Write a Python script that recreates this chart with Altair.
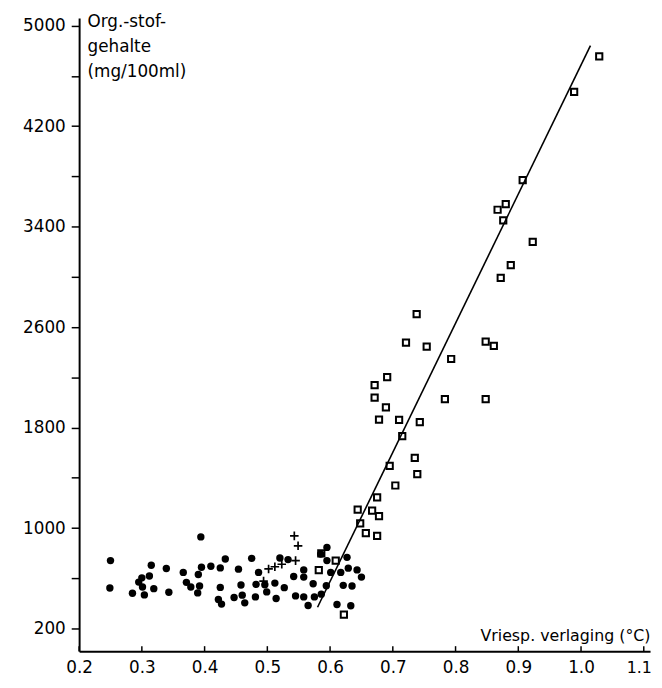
import altair as alt
import pandas as pd

# Filled circles
dot_x = [0.250, 0.249, 0.285, 0.304, 0.301, 0.295, 0.300, 0.312, 0.315, 0.319,
         0.339, 0.343, 0.366, 0.371, 0.378, 0.394, 0.395, 0.390, 0.392, 0.389,
         0.410, 0.425, 0.425, 0.422, 0.427, 0.433, 0.447, 0.458, 0.460, 0.464,
         0.454, 0.475, 0.486, 0.482, 0.481, 0.499, 0.496, 0.512, 0.514, 0.527,
         0.520, 0.533, 0.542, 0.558, 0.558, 0.545, 0.558, 0.573, 0.565, 0.575,
         0.586, 0.594, 0.601, 0.595, 0.595, 0.585, 0.617, 0.621, 0.635, 0.629,
         0.643, 0.650, 0.627, 0.611, 0.633]
dot_y = [741, 523, 481, 468, 531, 570, 604, 618, 704, 518,
         678, 489, 647, 568, 531, 930, 688, 631, 539, 484,
         696, 683, 528, 431, 395, 754, 447, 547, 466, 405,
         673, 759, 647, 552, 452, 492, 549, 562, 439, 526,
         762, 749, 615, 667, 610, 460, 452, 557, 384, 452,
         474, 541, 647, 741, 846, 793, 647, 544, 539, 681,
         667, 610, 767, 392, 382]

# Plus signs
plus_x = [0.543, 0.549, 0.545, 0.502, 0.512, 0.523, 0.494]
plus_y = [938, 859, 741, 675, 692, 712, 578]

# Open squares
sq_x = [1.029, 0.989, 0.907, 0.880, 0.867, 0.876, 0.923, 0.888, 0.872, 0.848,
        0.861, 0.793, 0.783, 0.848, 0.754, 0.721, 0.738, 0.691, 0.671, 0.671,
        0.689, 0.678, 0.710, 0.743, 0.715, 0.735, 0.739, 0.695, 0.704, 0.675,
        0.644, 0.667, 0.678, 0.648, 0.657, 0.675, 0.609, 0.586, 0.582, 0.622]
sq_y = [4754, 4473, 3770, 3578, 3534, 3450, 3279, 3094, 2991, 2485,
        2451, 2346, 2026, 2026, 2445, 2477, 2703, 2201, 2138, 2039,
        1961, 1863, 1861, 1843, 1732, 1559, 1430, 1496, 1339, 1245,
        1147, 1139, 1095, 1037, 960, 938, 741, 799, 665, 311]

# Fitted line
line_x = [0.58, 1.015]
line_y = [370, 4840]

x_ticks = [0.2, 0.3, 0.4, 0.5, 0.6, 0.7, 0.8, 0.9, 1.0, 1.1]
y_ticks = [200, 600, 1000, 1400, 1800, 2200, 2600, 3000, 3400, 3800, 4200, 4600, 5000]
y_labels = [200, 1000, 1800, 2600, 3400, 4200, 5000]

x_title = "Vriesp. verlaging (°C)"
y_title = ["Org.-stof-", "gehalte", "(mg/100ml)"]

FONT = "DejaVu Sans"
xdom = [0.2, 1.11]
ydom = [20, 5060]

xs = alt.Scale(domain=xdom, nice=False, zero=False)
ys = alt.Scale(domain=ydom, nice=False, zero=False)

label_test = " || ".join(f"datum.value == {v}" for v in y_labels)

xaxis = alt.Axis(values=x_ticks, format=".1f", tickSize=0, labelPadding=9,
                 labelFont=FONT, labelColor="black",
                 labelFontSize={"condition": {"test": "datum.value > 1.05", "value": 16}, "value": 17},
                 labelOffset={"condition": {"test": "datum.value > 1.05", "value": -5}, "value": 0},
                 domainColor="black", domainWidth=2, grid=False,
                 title=x_title, titleFont=FONT, titleFontSize=16,
                 titleFontWeight="normal", titleColor="black",
                 titleAnchor="end", titleAlign="right", titleX=578, titleY=-11,
                 titleBaseline="alphabetic", labelFlush=False)
yaxis = alt.Axis(values=y_ticks, labelExpr=f"({label_test}) ? datum.value : ''",
                 tickSize=8, tickWidth=1.5, tickColor="black", labelPadding=6,
                 labelFont=FONT, labelFontSize=17, labelColor="black",
                 domainColor="black", domainWidth=2, grid=False,
                 title=y_title, titleFont=FONT, titleFontSize=17,
                 titleFontWeight="normal", titleColor="black", titleAngle=0,
                 titleAlign="left", titleBaseline="top", titleX=8, titleY=-4,
                 titleLineHeight=25, labelFlush=False)

dots = pd.DataFrame({"x": dot_x, "y": dot_y})
pluses = pd.DataFrame({"x": plus_x, "y": plus_y})
squares = pd.DataFrame({"x": sq_x, "y": sq_y})
line = pd.DataFrame({"x": line_x, "y": line_y})
xt = pd.DataFrame({"x": x_ticks})

base_dots = alt.Chart(dots).mark_point(shape="circle", filled=True, color="black",
                                       size=56, opacity=1).encode(
    x=alt.X("x:Q", scale=xs, axis=xaxis),
    y=alt.Y("y:Q", scale=ys, axis=yaxis))

plus_layer = alt.Chart(pluses).mark_point(shape="M-1,0L1,0M0,-1L0,1", filled=False,
                                          color="black", strokeWidth=1.7, size=75,
                                          opacity=1).encode(
    x=alt.X("x:Q", scale=xs), y=alt.Y("y:Q", scale=ys))

sq_layer = alt.Chart(squares).mark_point(shape="square", filled=False, color="black",
                                         strokeWidth=2, size=40, opacity=1).encode(
    x=alt.X("x:Q", scale=xs), y=alt.Y("y:Q", scale=ys))

line_layer = alt.Chart(line).mark_line(color="black", strokeWidth=1.6).encode(
    x=alt.X("x:Q", scale=xs), y=alt.Y("y:Q", scale=ys))

xtick_layer = alt.Chart(xt).mark_rule(color="black", strokeWidth=1.5).encode(
    x=alt.X("x:Q", scale=xs), y=alt.datum(20), y2=alt.datum(60))

chart = alt.layer(line_layer, base_dots, plus_layer, sq_layer, xtick_layer).properties(
    width=578, height=641,
    autosize=alt.AutoSizeParams(type="none"),
    padding={"left": 72, "top": 6, "right": 4, "bottom": 25},
    background="white",
).configure_view(stroke=None)

chart.save("out.html", embed_options={"renderer": "svg", "actions": False})
